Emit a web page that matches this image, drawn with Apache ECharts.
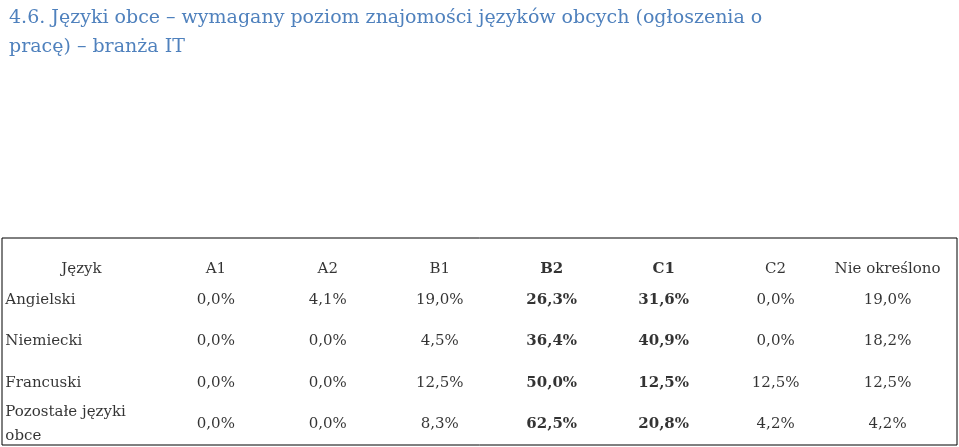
<!DOCTYPE html>
<html><head><meta charset="utf-8">
<script src="https://cdn.jsdelivr.net/npm/echarts@6/dist/echarts.min.js"></script>
<style>html,body{margin:0;padding:0;background:#fff}#c{width:959px;height:447px}</style>
</head><body><div id="c"></div>
<script>
const titleText = "4.6. Języki obce – wymagany poziom znajomości języków obcych (ogłoszenia o\npracę) – branża IT";
const headers = ["Język","A1","A2","B1","B2","C1","C2","Nie określono"];
const rowNames = ["Angielski","Niemiecki","Francuski","Pozostałe języki\nobce"];
const angielski = ["0,0%","4,1%","19,0%","26,3%","31,6%","0,0%","19,0%"];
const niemiecki = ["0,0%","0,0%","4,5%","36,4%","40,9%","0,0%","18,2%"];
const francuski = ["0,0%","0,0%","12,5%","50,0%","12,5%","12,5%","12,5%"];
const pozostale = ["0,0%","0,0%","8,3%","62,5%","20,8%","4,2%","4,2%"];
const boldCols = ["B2","C1"];
const rows = [angielski, niemiecki, francuski, pozostale];
const yCats = ["h","r0","r1","r2","r3"];

const font = "DejaVu Serif";
const data = [];
headers.forEach((h,i)=>{
  data.push({value:[i===0?-0.2:i, "h", h], label:{fontWeight: boldCols.includes(h)?'bold':'normal', align:'center', offset:[0,10]}});
});
rows.forEach((r,ri)=>{
  data.push({value:[-0.88, "r"+ri, rowNames[ri]], label:{align:'left', lineHeight:24}});
  r.forEach((v,ci)=>{
    data.push({value:[ci+1, "r"+ri, v], label:{fontWeight: boldCols.includes(headers[ci+1])?'bold':'normal', align:'center'}});
  });
});

const chart = echarts.init(document.getElementById('c'));
chart.setOption({
  animation:false,
  title:{text:titleText,left:4,top:-1,textStyle:{color:'#4F81BD',fontFamily:font,fontSize:19,fontWeight:'normal',lineHeight:29}},
  grid:{left:2,right:2,top:238,bottom:2,show:true,borderColor:'#000',borderWidth:1},
  xAxis:{type:'value',min:-0.91,max:7.62,show:false},
  yAxis:{type:'category',data:yCats,inverse:true,show:false},
  series:[{type:'scatter',symbolSize:0,data:data,
    label:{show:true,position:'inside',color:'#000',fontFamily:font,fontSize:15,
      formatter:p=>p.value[2]}}]
});
</script></body></html>
